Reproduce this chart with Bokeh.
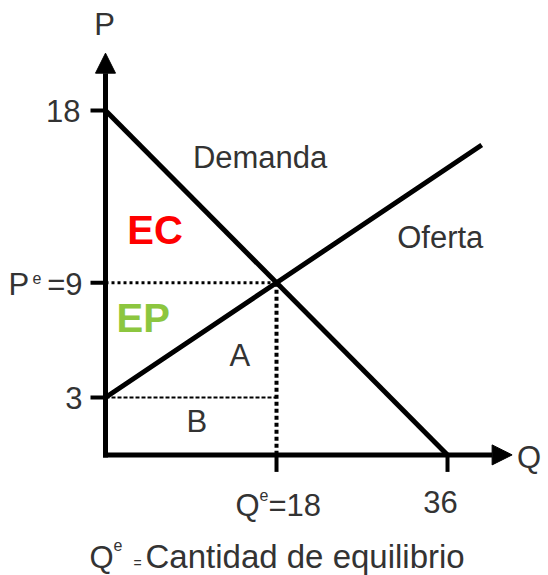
from bokeh.plotting import figure
from bokeh.models import Range1d
from bokeh.core.properties import value
from bokeh.embed import file_html
from bokeh.resources import INLINE

# ---- data ----
demand_q = [0, 36]
demand_p = [18, 0]
supply_q = [0, 18, 39.6]
supply_p = [3, 9, 16.2]
eq_q = 18
eq_p = 9
supply_p0 = 3
y_ticks = [18, 9, 3]
x_ticks = [18, 36]
q_axis_end = 42.8
p_axis_end = 21.0

# ---- scale helpers (pixels per data unit) ----
PX_X = 9.5
PX_Y = 19.13

TEXT = "#333333"
FONT = "Liberation Sans"
FS = 31

p = figure(width=548, height=575, output_backend="svg", toolbar_location=None,
           x_range=Range1d(-11.053, 46.63), y_range=Range1d(-6.304, 23.753),
           x_axis_location=None, y_axis_location=None, min_border=0,
           outline_line_color=None, background_fill_color="white")
p.xgrid.visible = False
p.ygrid.visible = False


def label(x, y, s, size, xo=0, yo=0, align="left", color=TEXT, style="normal"):
    p.text(x=[x], y=[y], text=[s], x_offset=xo, y_offset=yo - 0.35 * size,
           text_font=value(FONT), text_font_size=f"{size}px",
           text_align=align, text_baseline="alphabetic",
           text_color=color, text_font_style=style)


# dotted guide lines
p.line([0, eq_q], [eq_p, eq_p], line_color="black", line_width=3, line_dash="3 3")
p.line([eq_q, eq_q], [eq_p, 0], line_color="black", line_width=4, line_dash="4 3")
p.line([0, eq_q], [supply_p0, supply_p0], line_color="black", line_width=2, line_dash="4 2")

# curves
p.line(demand_q, demand_p, line_color="black", line_width=5)
p.line(supply_q, supply_p, line_color="black", line_width=5)

# axes
hl_y = 20 / PX_Y
hw_y = 10 / PX_X
hl_x = 20 / PX_X
hw_x = 10 / PX_Y
p.line([0, 0], [-2.5 / PX_Y, p_axis_end - hl_y], line_color="black", line_width=5)
p.line([-2.5 / PX_X, q_axis_end - hl_x], [0, 0], line_color="black", line_width=5)
p.patch([-hw_y, hw_y, 0], [p_axis_end - hl_y, p_axis_end - hl_y, p_axis_end], color="black")
p.patch([q_axis_end - hl_x, q_axis_end - hl_x, q_axis_end], [-hw_x, hw_x, 0], color="black")

# ticks
p.segment(x0=[-15 / PX_X] * len(y_ticks), y0=y_ticks, x1=[0] * len(y_ticks), y1=y_ticks,
          line_color="black", line_width=4)
p.segment(x0=x_ticks, y0=[-17 / PX_Y] * len(x_ticks), x1=x_ticks, y1=[0] * len(x_ticks),
          line_color="black", line_width=4)

# axis labels
label(0, p_axis_end, "P", FS, xo=-1, yo=-18, align="center")
label(q_axis_end, 0, "Q", FS, xo=5, yo=13)

# y tick labels
label(0, 18, "18", FS, xo=-25, yo=11, align="right")
label(0, eq_p, "P", FS, xo=-97, yo=13)
label(0, eq_p, "e", 16, xo=-73, yo=1)
label(0, eq_p, "=9", FS, xo=-23, yo=13, align="right")
label(0, supply_p0, "3", FS, xo=-23, yo=11, align="right")

# x tick labels
label(eq_q, 0, "Q", FS, xo=-41, yo=61)
label(eq_q, 0, "e", 16, xo=-17, yo=46)
label(eq_q, 0, "=18", FS, xo=-8, yo=61)
label(36, 0, "36", FS, xo=-7, yo=58, align="center")

# curve / area labels
label(9.2, 15.0, "Demanda", FS)
label(30.7, 10.8, "Oferta", FS)
label(2.3, 11.05, "EC", 40, color="#ff0000", style="bold")
label(1.16, 6.4, "EP", 40, color="#8cc63f", style="bold")
label(13.05, 4.62, "A", FS)
label(8.53, 1.17, "B", FS)

# bottom caption
label(0, 0, "Q", FS, xo=-16, yo=113)
label(0, 0, "e", 16, xo=8, yo=96)
label(0, 0, "=", 14, xo=28, yo=113)
label(0, 0, "Cantidad de equilibrio", 33, xo=40, yo=113)

open("out.html", "w").write(file_html(p, INLINE))
